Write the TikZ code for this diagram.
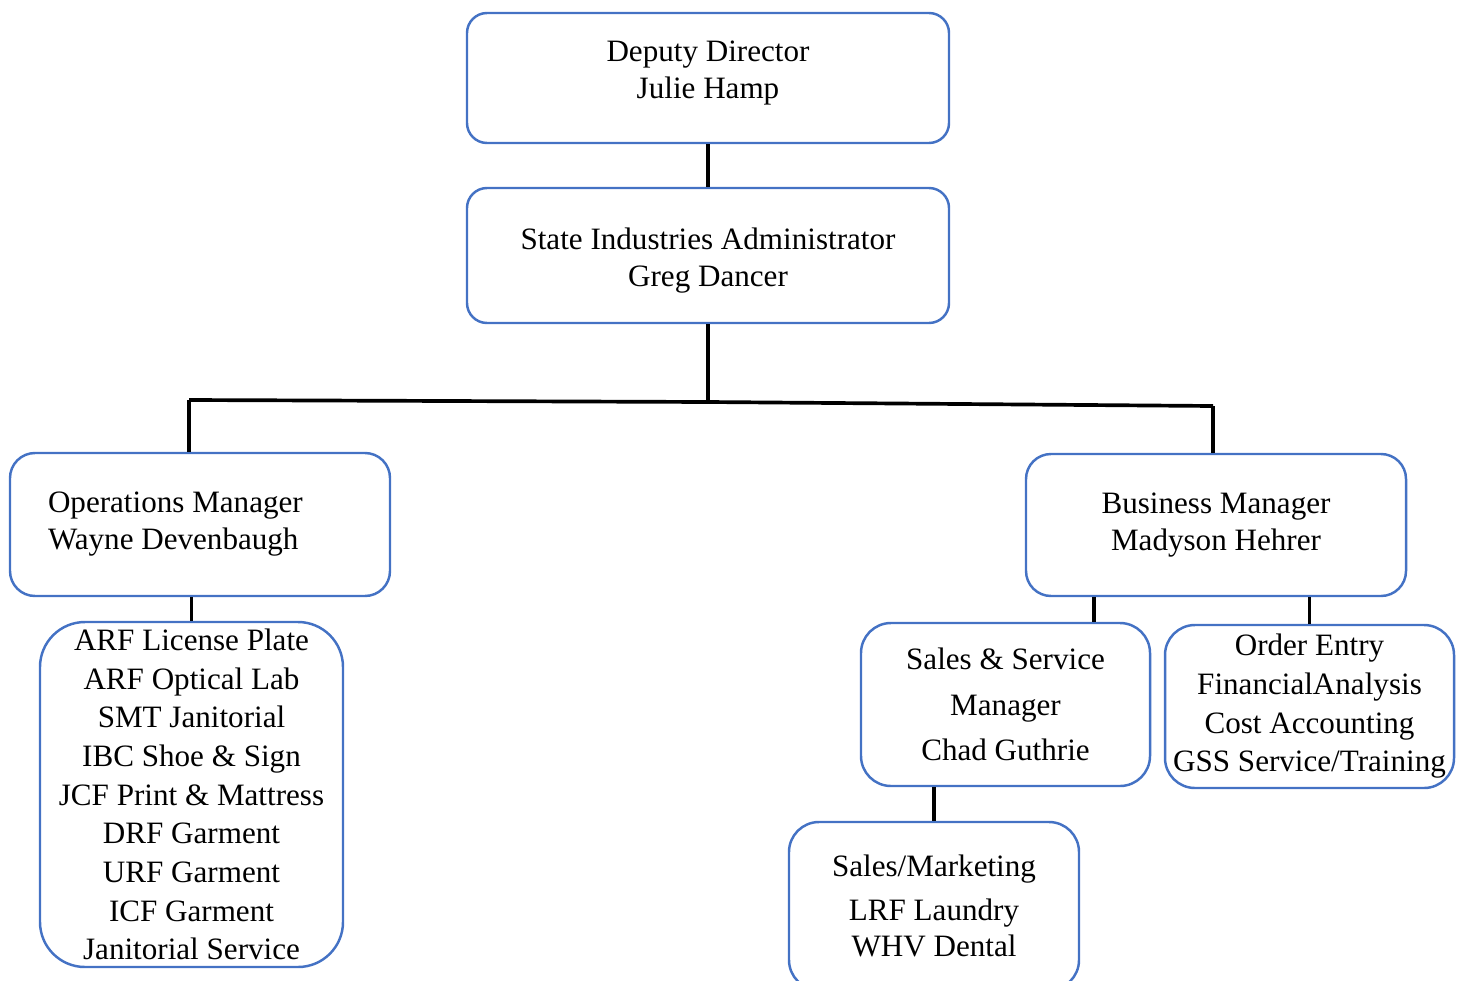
\documentclass[tikz,border=0pt]{standalone}
\usepackage{fontspec}
\setmainfont{Liberation Serif}
\definecolor{boxblue}{HTML}{4472C4}
\begin{document}
\begin{tikzpicture}[
    box/.style={draw=boxblue, line width=1.4pt, rounded corners=0.4cm, align=center,
      inner sep=0pt, font=\fontsize{17.7}{21}\selectfont},
    link/.style={line width=2.1pt}]
  \useasboundingbox (0,0) rectangle (29.28,-19.6);
  % top of the chart
  \node[box, minimum width=9.64cm, minimum height=2.6cm] (dd) at (14.16,-1.56)
    {Deputy Director\\Julie Hamp\\[-12pt]\mbox{}};
  \node[box, minimum width=9.64cm, minimum height=2.7cm] (sia) at (14.16,-5.11)
    {\mbox{}\\[-3.4pt]State Industries Administrator\\Greg Dancer};
  % managers
  \node[box, rounded corners=0.5cm, align=flush left, text width=6.08cm, inner xsep=0.76cm,
    minimum height=2.86cm] (ops) at (4.0,-10.49)
    {Operations Manager\\Wayne Devenbaugh};
  \node[box, rounded corners=0.5cm, minimum width=7.6cm, minimum height=2.84cm] (bm) at (24.32,-10.5)
    {Business Manager\\Madyson Hehrer};
  % lower boxes
  \node[box, rounded corners=0.9cm, minimum width=6.06cm, minimum height=6.9cm,
    font=\fontsize{17.7}{22}\selectfont] (arf) at (3.83,-15.89)
    {ARF License Plate\\ARF Optical Lab\\SMT Janitorial\\IBC Shoe \& Sign\\JCF Print \& Mattress\\
     DRF Garment\\URF Garment\\ICF Garment\\Janitorial Service};
  \node[box, rounded corners=0.6cm, minimum width=5.78cm, minimum height=3.26cm,
    font=\fontsize{17.7}{25.8}\selectfont] (ss) at (20.11,-14.09)
    {Sales \& Service\\Manager\\Chad Guthrie};
  \node[box, rounded corners=0.6cm, minimum width=5.78cm, minimum height=3.26cm,
    font=\fontsize{17.7}{22}\selectfont] (oe) at (26.19,-14.13)
    {Order Entry\\FinancialAnalysis\\Cost Accounting\\GSS Service/Training};
  \node[box, rounded corners=0.6cm, minimum width=5.8cm, minimum height=3.36cm] (sm) at (18.68,-18.12)
    {Sales/Marketing\\[4pt]LRF Laundry\\WHV Dental};
  % connectors
  \coordinate (jl) at (3.78,-8.0);
  \coordinate (jm) at (14.16,-8.04);
  \coordinate (jr) at (24.26,-8.12);
  \draw[link] (dd) -- (sia);
  \draw[link] (sia.south) -- (jm);
  \draw[link] (jl) -- (jm) -- (jr);
  \draw[link] (jl) -- (jl |- ops.north);
  \draw[link] (jr) -- (jr |- bm.north);
  \draw[link] (arf.north) -- (arf.north |- ops.south);
  \draw[link] ([xshift=-2.44cm]bm.south) -- ([xshift=-2.44cm]bm.south |- ss.north);
  \draw[link] (oe.north) -- (oe.north |- bm.south);
  \draw[link] (sm.north) -- (sm.north |- ss.south);
\end{tikzpicture}
\end{document}
